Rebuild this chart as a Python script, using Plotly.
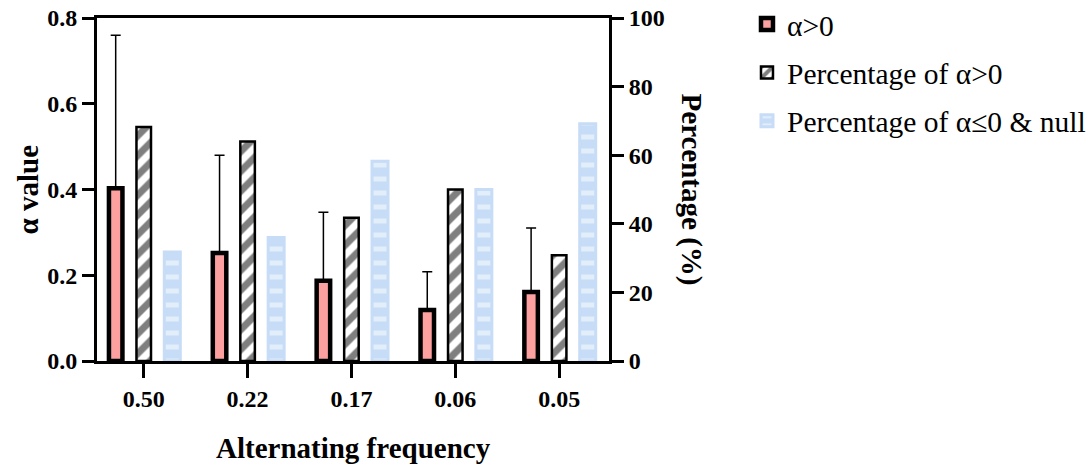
import plotly.graph_objects as go

categories = ["0.50", "0.22", "0.17", "0.06", "0.05"]
alpha_mean = [0.403, 0.252, 0.187, 0.119, 0.161]
alpha_err = [0.357, 0.228, 0.160, 0.089, 0.149]
pct_pos = [68.2, 64.0, 41.8, 50.0, 30.8]
pct_neg = [31.8, 36.0, 58.2, 50.0, 69.2]

names = ["α>0", "Percentage of α>0", "Percentage of α≤0 & null"]

PINK = "#fda0a0"
BLUE = "#c7dcf6"
SERIF = "Liberation Serif, Times New Roman, serif"

w_pink, w_hat, w_blue = 0.13, 0.14, 0.154
off_pink, off_hat, off_blue = -0.27, 0.0, 0.275

fig = go.Figure()
fig.add_trace(go.Bar(
    x=categories, y=alpha_mean, name=names[0], yaxis="y",
    width=w_pink, offset=off_pink - w_pink / 2,
    marker=dict(color=PINK, line=dict(color="black", width=4.5)),
    error_y=dict(type="data", array=alpha_err, arrayminus=[0] * len(alpha_err),
                 symmetric=False, color="black", thickness=1.5, width=5),
    legendgroup="a",
))
fig.add_trace(go.Bar(
    x=categories, y=pct_pos, name=names[1], yaxis="y2",
    width=w_hat, offset=off_hat - w_hat / 2,
    marker=dict(color="white", line=dict(color="black", width=2.5),
                pattern=dict(shape="/", fgcolor="black", bgcolor="white",
                             size=14, solidity=0.5)),
    legendgroup="b",
))
fig.add_trace(go.Bar(
    x=categories, y=pct_neg, name=names[2], yaxis="y2",
    width=w_blue, offset=off_blue - w_blue / 2,
    marker=dict(color=BLUE, line=dict(color=BLUE, width=3),
                pattern=dict(shape="-", fgcolor="white", bgcolor=BLUE,
                             size=14, solidity=0.36)),
    legendgroup="c",
))

tickfont = dict(family=SERIF, size=24, color="black", weight="bold")
axis_common = dict(showline=True, linewidth=3, linecolor="black",
                   ticks="outside", tickwidth=3, tickcolor="black",
                   showgrid=False, zeroline=False, tickfont=tickfont)

fig.update_layout(
    width=1091, height=465,
    margin=dict(l=97, r=482, t=18, b=104, autoexpand=False),
    paper_bgcolor="white", plot_bgcolor="white",
    barmode="overlay",
    font=dict(family=SERIF, color="black"),
    xaxis=dict(type="category", range=[-0.45, 4.48], ticklen=14,
               mirror=True, **axis_common),
    yaxis=dict(range=[0, 0.8], tickvals=[0, 0.2, 0.4, 0.6, 0.8],
               tickformat=".1f", ticklen=12, **axis_common),
    yaxis2=dict(range=[0, 100], tickvals=[0, 20, 40, 60, 80, 100],
                overlaying="y", side="right", ticklen=12, **axis_common),
    legend=dict(x=1.2695, y=1.057, xanchor="left", yanchor="top",
                font=dict(family=SERIF, size=29.5, color="black"),
                traceorder="grouped", tracegroupgap=7,
                bgcolor="rgba(0,0,0,0)"),
    showlegend=True,
    annotations=[
        dict(text="<b>Alternating frequency</b>", xref="paper", yref="paper",
             x=0.5, y=-0.254, xanchor="center", yanchor="middle",
             showarrow=False, font=dict(family=SERIF, size=29)),
        dict(text="<b>α value</b>", xref="paper", yref="paper",
             x=-0.135, y=0.5, xanchor="center", yanchor="middle", textangle=-90,
             showarrow=False, font=dict(family=SERIF, size=29)),
        dict(text="<b>Percentage (%)</b>", xref="paper", yref="paper",
             x=1.162, y=0.5, xanchor="center", yanchor="middle", textangle=90,
             showarrow=False, font=dict(family=SERIF, size=29)),
    ],
)

fig.write_html("out.html")
